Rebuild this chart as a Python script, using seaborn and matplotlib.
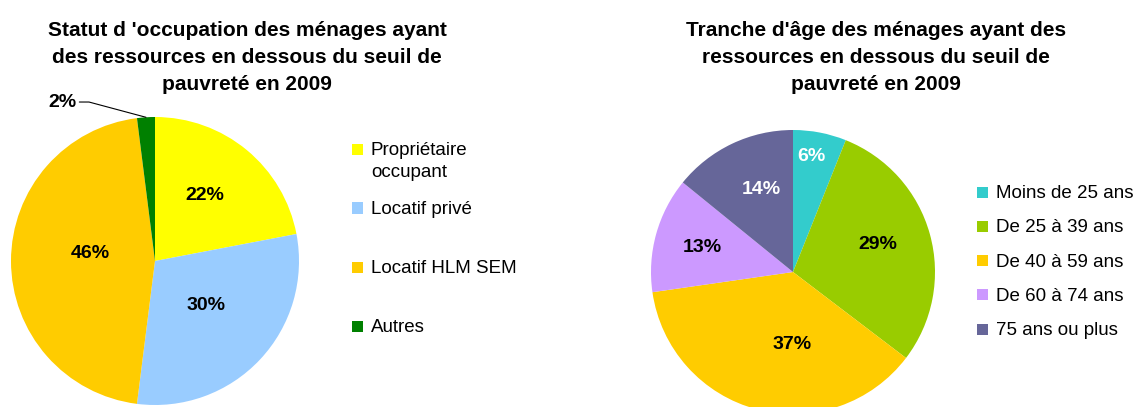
import numpy as np
import matplotlib
matplotlib.use("Agg")
import matplotlib.pyplot as plt
from matplotlib.patches import Rectangle
import seaborn as sns

# statut d'occupation (graphique de gauche)
statut_labels = ["Propriétaire\noccupant", "Locatif privé", "Locatif HLM SEM", "Autres"]
statut_values = [22, 30, 46, 2]
statut_colors = ["#FFFF00", "#99CCFF", "#FFCC00", "#008000"]

# tranche d'age (graphique de droite)
age_labels = ["Moins de 25 ans", "De 25 à 39 ans", "De 40 à 59 ans", "De 60 à 74 ans", "75 ans ou plus"]
age_values = [6, 29, 37, 13, 14]
age_colors = ["#33CCCC", "#99CC00", "#FFCC00", "#CC99FF", "#666699"]

title_left = "Statut d 'occupation des ménages ayant\ndes ressources en dessous du seuil de\npauvreté en 2009"
title_right = "Tranche d'âge des ménages ayant des\nressources en dessous du seuil de\npauvreté en 2009"

W, H = 1141, 407

sns.set_theme(style="white")
plt.rcParams["font.family"] = ["Liberation Sans", "DejaVu Sans"]
plt.rcParams["text.color"] = "black"

fig = plt.figure(figsize=(W / 100, H / 100), dpi=100)
fig.patch.set_facecolor("white")


def fx(x):  # pixel -> figure fraction
    return x / W


def fy(y):
    return 1 - y / H


def draw_pie(cx, cy, r, values, colors, pct_pos, pct_colors):
    ax = fig.add_axes([fx(cx - r), fy(cy + r), 2 * r / W, 2 * r / H])
    wedges, _, autotexts = ax.pie(values, colors=colors, startangle=90, counterclock=False,
                                  autopct=lambda p: f"{p:.0f}%",
                                  wedgeprops=dict(linewidth=0),
                                  textprops=dict(fontsize=14, fontweight="bold"))
    ax.set_xlim(-1, 1)
    ax.set_ylim(-1, 1)
    ax.set_aspect("auto")
    # label position (distance, angle) - excel "best fit" look
    for t, pos, c in zip(autotexts, pct_pos, pct_colors):
        if pos is None:
            t.set_visible(False)
            continue
        d, a = pos
        a = np.deg2rad(a)
        t.set_position((d * np.cos(a), d * np.sin(a)))
        t.set_color(c)
    return ax, wedges


def draw_legend(labels, colors, x, ys):
    for lab, c, y in zip(labels, colors, ys):
        fig.add_artist(Rectangle((fx(x), fy(y + 5.5)), 11 / W, 11 / H, transform=fig.transFigure,
                                 facecolor=c, edgecolor="none"))
        fig.text(fx(x + 19), fy(y - 7), lab, fontsize=13.5, ha="left", va="top",
                 linespacing=1.4, color="black")


# gauche
ax1, w1 = draw_pie(155, 261, 144, statut_values, statut_colors,
                   [(0.57, 53), (0.47, -41), (0.45, 173), None],
                   ["black"] * 4)
mid = np.deg2rad((w1[3].theta1 + w1[3].theta2) / 2)
ax1.annotate("2%", xy=(np.cos(mid), np.sin(mid)), xytext=(-0.646, 1.104),
             ha="center", va="center", fontsize=14, fontweight="bold", color="black",
             arrowprops=dict(arrowstyle="-", color="black", lw=0.8, relpos=(1, 0.5),
                             shrinkA=0, shrinkB=0,
                             connectionstyle="angle,angleA=0,angleB=-15,rad=0"))
fig.text(fx(247), fy(57.5), title_left, ha="center", va="center", fontsize=15,
         fontweight="bold", linespacing=1.52, color="black")
draw_legend(statut_labels, statut_colors, 352, [149, 208, 267, 326])

# droite
ax2, w2 = draw_pie(793, 272, 142, age_values, age_colors,
                   [(0.82, 81), (0.63, 18), (0.51, -91), (0.66, 165), (0.62, 111)],
                   ["white", "black", "black", "black", "white"])
fig.text(fx(876), fy(57.5), title_right, ha="center", va="center", fontsize=15,
         fontweight="bold", linespacing=1.52, color="black")
draw_legend(age_labels, age_colors, 977, [192 + 34.3 * i for i in range(5)])

fig.savefig("out.png", dpi=100, facecolor="white")
